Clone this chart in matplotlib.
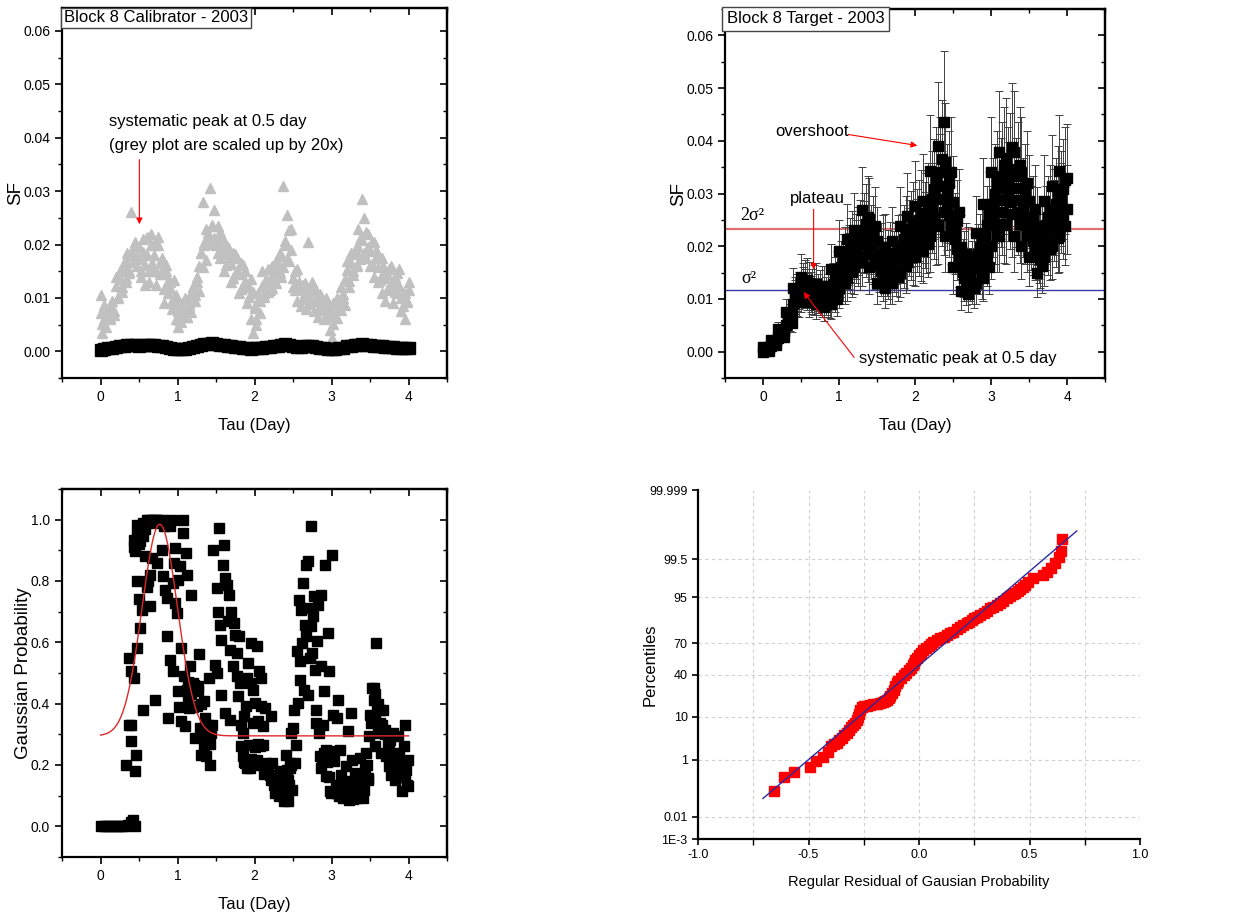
import math
import numpy as np
import matplotlib
matplotlib.use("Agg")
import matplotlib.pyplot as plt
from matplotlib.ticker import (MultipleLocator, FixedLocator, FixedFormatter,
                               FuncFormatter, NullFormatter, NullLocator)

# ---------------- data ----------------
# lag grid (day) shared by calibrator (grey) and target SF
tau_lag = [0.000, 0.025, 0.050, 0.075, 0.100, 0.125, 0.150, 0.175,
           0.200, 0.225, 0.250, 0.275, 0.300, 0.325, 0.350, 0.375,
           0.400, 0.425, 0.450, 0.475, 0.500, 0.525, 0.550, 0.575,
           0.600, 0.625, 0.650, 0.675, 0.700, 0.725, 0.750, 0.775,
           0.800, 0.825, 0.850, 0.875, 0.900, 0.925, 0.950, 0.975,
           1.000, 1.025, 1.050, 1.075, 1.100, 1.125, 1.150, 1.175,
           1.200, 1.225, 1.250, 1.275, 1.300, 1.325, 1.350, 1.375,
           1.400, 1.425, 1.450, 1.475, 1.500, 1.525, 1.550, 1.575,
           1.600, 1.625, 1.650, 1.675, 1.700, 1.725, 1.750, 1.775,
           1.800, 1.825, 1.850, 1.875, 1.900, 1.925, 1.950, 1.975,
           2.000, 2.025, 2.050, 2.075, 2.100, 2.125, 2.150, 2.175,
           2.200, 2.225, 2.250, 2.275, 2.300, 2.325, 2.350, 2.375,
           2.400, 2.425, 2.450, 2.475, 2.500, 2.525, 2.550, 2.575,
           2.600, 2.625, 2.650, 2.675, 2.700, 2.725, 2.750, 2.775,
           2.800, 2.825, 2.850, 2.875, 2.900, 2.925, 2.950, 2.975,
           3.000, 3.025, 3.050, 3.075, 3.100, 3.125, 3.150, 3.175,
           3.200, 3.225, 3.250, 3.275, 3.300, 3.325, 3.350, 3.375,
           3.400, 3.425, 3.450, 3.475, 3.500, 3.525, 3.550, 3.575,
           3.600, 3.625, 3.650, 3.675, 3.700, 3.725, 3.750, 3.775,
           3.800, 3.825, 3.850, 3.875, 3.900, 3.925, 3.950, 3.975,
           4.000]

# calibrator SF scaled up by 20x (grey triangles), two samples per lag
cal_grey = [0.0105, 0.0035, 0.0060, 0.0045, 0.0080, 0.0060, 0.0095, 0.0075,
            0.0140, 0.0100, 0.0150, 0.0120, 0.0165, 0.0130, 0.0185, 0.0150,
            0.0260, 0.0180, 0.0205, 0.0160, 0.0195, 0.0140, 0.0210, 0.0125,
            0.0215, 0.0130, 0.0220, 0.0150, 0.0200, 0.0125, 0.0215, 0.0145,
            0.0175, 0.0090, 0.0150, 0.0110, 0.0130, 0.0080, 0.0100, 0.0060,
            0.0045, 0.0090, 0.0055, 0.0075, 0.0100, 0.0065, 0.0085, 0.0110,
            0.0120, 0.0095, 0.0140, 0.0160, 0.0185, 0.0280, 0.0200, 0.0230,
            0.0210, 0.0305, 0.0235, 0.0265, 0.0200, 0.0235, 0.0175, 0.0215,
            0.0150, 0.0200, 0.0165, 0.0190, 0.0130, 0.0185, 0.0145, 0.0175,
            0.0110, 0.0165, 0.0120, 0.0150, 0.0090, 0.0120, 0.0060, 0.0035,
            0.0085, 0.0050, 0.0110, 0.0095, 0.0150, 0.0110, 0.0130, 0.0155,
            0.0115, 0.0160, 0.0135, 0.0170, 0.0150, 0.0185, 0.0140, 0.0310,
            0.0200, 0.0255, 0.0170, 0.0230, 0.0120, 0.0150, 0.0095, 0.0130,
            0.0085, 0.0125, 0.0110, 0.0080, 0.0205, 0.0100, 0.0130, 0.0075,
            0.0115, 0.0065, 0.0095, 0.0080, 0.0060, 0.0100, 0.0070, 0.0040,
            0.0025, 0.0090, 0.0065, 0.0100, 0.0080, 0.0120, 0.0100, 0.0135,
            0.0170, 0.0120, 0.0185, 0.0150, 0.0190, 0.0160, 0.0230, 0.0210,
            0.0285, 0.0250, 0.0175, 0.0220, 0.0160, 0.0205, 0.0140, 0.0190,
            0.0130, 0.0175, 0.0110, 0.0160, 0.0095, 0.0145, 0.0120, 0.0160,
            0.0090, 0.0140, 0.0110, 0.0155, 0.0075, 0.0110, 0.0060, 0.0095,
            0.0130]
cal_grey2 = [0.0072, 0.0051, 0.0086, 0.0062, 0.0074, 0.0062, 0.0082, 0.0068,
             0.0122, 0.0101, 0.0136, 0.0112, 0.0156, 0.0138, 0.0168, 0.0147,
             0.0186, 0.0168, 0.0198, 0.0177, 0.0172, 0.0151, 0.0186, 0.0162,
             0.0180, 0.0150, 0.0200, 0.0165, 0.0180, 0.0150, 0.0200, 0.0165,
             0.0144, 0.0117, 0.0162, 0.0131, 0.0118, 0.0094, 0.0134, 0.0106,
             0.0076, 0.0058, 0.0088, 0.0067, 0.0080, 0.0065, 0.0090, 0.0073,
             0.0120, 0.0105, 0.0130, 0.0113, 0.0184, 0.0157, 0.0202, 0.0171,
             0.0222, 0.0201, 0.0236, 0.0212, 0.0208, 0.0184, 0.0224, 0.0196,
             0.0182, 0.0161, 0.0196, 0.0172, 0.0164, 0.0137, 0.0182, 0.0151,
             0.0144, 0.0117, 0.0162, 0.0131, 0.0122, 0.0101, 0.0136, 0.0112,
             0.0082, 0.0061, 0.0096, 0.0072, 0.0122, 0.0101, 0.0136, 0.0112,
             0.0136, 0.0118, 0.0148, 0.0127, 0.0166, 0.0148, 0.0178, 0.0157,
             0.0206, 0.0173, 0.0228, 0.0190, 0.0138, 0.0114, 0.0154, 0.0126,
             0.0116, 0.0098, 0.0128, 0.0107, 0.0106, 0.0088, 0.0118, 0.0097,
             0.0096, 0.0078, 0.0108, 0.0087, 0.0080, 0.0065, 0.0090, 0.0073,
             0.0072, 0.0051, 0.0086, 0.0062, 0.0096, 0.0078, 0.0108, 0.0087,
             0.0152, 0.0131, 0.0166, 0.0142, 0.0182, 0.0161, 0.0196, 0.0172,
             0.0208, 0.0184, 0.0224, 0.0196, 0.0188, 0.0164, 0.0204, 0.0176,
             0.0158, 0.0134, 0.0174, 0.0146, 0.0138, 0.0114, 0.0154, 0.0126,
             0.0132, 0.0111, 0.0146, 0.0122, 0.0100, 0.0085, 0.0110, 0.0093,
             0.0114]

# calibrator SF, true scale (black squares)
tau_cal = [0.00, 0.05, 0.10, 0.15, 0.20, 0.25, 0.30, 0.35, 0.40, 0.45,
           0.50, 0.55, 0.60, 0.65, 0.70, 0.75, 0.80, 0.85, 0.90, 0.95,
           1.00, 1.05, 1.10, 1.15, 1.20, 1.25, 1.30, 1.35, 1.40, 1.45,
           1.50, 1.55, 1.60, 1.65, 1.70, 1.75, 1.80, 1.85, 1.90, 1.95,
           2.00, 2.05, 2.10, 2.15, 2.20, 2.25, 2.30, 2.35, 2.40, 2.45,
           2.50, 2.55, 2.60, 2.65, 2.70, 2.75, 2.80, 2.85, 2.90, 2.95,
           3.00, 3.05, 3.10, 3.15, 3.20, 3.25, 3.30, 3.35, 3.40, 3.45,
           3.50, 3.55, 3.60, 3.65, 3.70, 3.75, 3.80, 3.85, 3.90, 3.95,
           4.00]
cal_black = [0.0003, 0.0005, 0.0006, 0.0007, 0.0008, 0.0009, 0.0010, 0.0011, 0.0012, 0.0011,
             0.0010, 0.0011, 0.0011, 0.0011, 0.0011, 0.0010, 0.0009, 0.0008, 0.0006, 0.0005,
             0.0004, 0.0004, 0.0005, 0.0006, 0.0008, 0.0010, 0.0012, 0.0013, 0.0014, 0.0015,
             0.0013, 0.0012, 0.0011, 0.0010, 0.0009, 0.0008, 0.0008, 0.0007, 0.0006, 0.0005,
             0.0006, 0.0007, 0.0007, 0.0008, 0.0008, 0.0009, 0.0010, 0.0012, 0.0014, 0.0011,
             0.0009, 0.0008, 0.0008, 0.0009, 0.0010, 0.0009, 0.0008, 0.0007, 0.0006, 0.0005,
             0.0004, 0.0005, 0.0006, 0.0007, 0.0009, 0.0010, 0.0011, 0.0012, 0.0013, 0.0012,
             0.0011, 0.0010, 0.0009, 0.0009, 0.0008, 0.0008, 0.0008, 0.0007, 0.0007, 0.0006,
             0.0007]

# target SF: two samples per lag, each with its error
tgt_sf = [0.0000, 0.0005, 0.0003, 0.0008, 0.0010, 0.0018, 0.0014, 0.0021,
          0.0025, 0.0035, 0.0030, 0.0040, 0.0050, 0.0065, 0.0058, 0.0073,
          0.0090, 0.0108, 0.0099, 0.0116, 0.0110, 0.0128, 0.0119, 0.0136,
          0.0095, 0.0115, 0.0105, 0.0125, 0.0090, 0.0113, 0.0101, 0.0124,
          0.0085, 0.0108, 0.0096, 0.0119, 0.0090, 0.0128, 0.0109, 0.0146,
          0.0120, 0.0160, 0.0140, 0.0180, 0.0140, 0.0183, 0.0161, 0.0204,
          0.0160, 0.0200, 0.0180, 0.0220, 0.0180, 0.0230, 0.0205, 0.0255,
          0.0160, 0.0213, 0.0186, 0.0239, 0.0130, 0.0175, 0.0153, 0.0198,
          0.0120, 0.0165, 0.0143, 0.0188, 0.0130, 0.0175, 0.0153, 0.0198,
          0.0150, 0.0200, 0.0175, 0.0225, 0.0170, 0.0220, 0.0195, 0.0245,
          0.0180, 0.0235, 0.0208, 0.0263, 0.0190, 0.0245, 0.0218, 0.0273,
          0.0220, 0.0290, 0.0255, 0.0325, 0.0240, 0.0340, 0.0290, 0.0435,
          0.0220, 0.0300, 0.0260, 0.0340, 0.0160, 0.0230, 0.0195, 0.0265,
          0.0115, 0.0163, 0.0139, 0.0186, 0.0110, 0.0150, 0.0130, 0.0170,
          0.0130, 0.0185, 0.0158, 0.0213, 0.0140, 0.0220, 0.0180, 0.0260,
          0.0200, 0.0280, 0.0240, 0.0320, 0.0220, 0.0310, 0.0265, 0.0355,
          0.0240, 0.0325, 0.0283, 0.0389, 0.0220, 0.0310, 0.0265, 0.0355,
          0.0200, 0.0280, 0.0240, 0.0320, 0.0180, 0.0240, 0.0210, 0.0270,
          0.0150, 0.0200, 0.0175, 0.0225, 0.0180, 0.0240, 0.0210, 0.0270,
          0.0200, 0.0265, 0.0233, 0.0298, 0.0220, 0.0290, 0.0255, 0.0325,
          0.0270]
tgt_err = [0.0000, 0.0002, 0.0001, 0.0002, 0.0003, 0.0005, 0.0004, 0.0006,
           0.0008, 0.0011, 0.0009, 0.0012, 0.0015, 0.0020, 0.0018, 0.0023,
           0.0028, 0.0033, 0.0031, 0.0036, 0.0034, 0.0040, 0.0037, 0.0042,
           0.0029, 0.0036, 0.0033, 0.0039, 0.0028, 0.0035, 0.0031, 0.0038,
           0.0026, 0.0033, 0.0030, 0.0037, 0.0028, 0.0040, 0.0034, 0.0045,
           0.0037, 0.0050, 0.0043, 0.0056, 0.0043, 0.0057, 0.0050, 0.0063,
           0.0050, 0.0062, 0.0056, 0.0068, 0.0056, 0.0071, 0.0064, 0.0079,
           0.0050, 0.0066, 0.0058, 0.0074, 0.0040, 0.0054, 0.0047, 0.0061,
           0.0037, 0.0051, 0.0044, 0.0058, 0.0040, 0.0054, 0.0047, 0.0061,
           0.0047, 0.0062, 0.0054, 0.0070, 0.0053, 0.0068, 0.0060, 0.0076,
           0.0056, 0.0073, 0.0064, 0.0082, 0.0059, 0.0076, 0.0068, 0.0085,
           0.0068, 0.0090, 0.0079, 0.0101, 0.0074, 0.0105, 0.0090, 0.0135,
           0.0068, 0.0093, 0.0081, 0.0105, 0.0050, 0.0071, 0.0060, 0.0082,
           0.0036, 0.0051, 0.0043, 0.0058, 0.0034, 0.0047, 0.0040, 0.0053,
           0.0040, 0.0057, 0.0049, 0.0066, 0.0043, 0.0068, 0.0056, 0.0081,
           0.0062, 0.0087, 0.0074, 0.0099, 0.0068, 0.0096, 0.0082, 0.0110,
           0.0074, 0.0101, 0.0088, 0.0121, 0.0068, 0.0096, 0.0082, 0.0110,
           0.0062, 0.0087, 0.0074, 0.0099, 0.0056, 0.0074, 0.0065, 0.0084,
           0.0047, 0.0062, 0.0054, 0.0070, 0.0056, 0.0074, 0.0065, 0.0084,
           0.0062, 0.0082, 0.0072, 0.0092, 0.0068, 0.0090, 0.0079, 0.0101,
           0.0084]
tgt_sf2 = [0.0009, 0.0004, 0.0006, 0.0001, 0.0023, 0.0016, 0.0019, 0.0012,
           0.0043, 0.0033, 0.0038, 0.0028, 0.0076, 0.0061, 0.0069, 0.0054,
           0.0121, 0.0103, 0.0112, 0.0094, 0.0141, 0.0123, 0.0132, 0.0114,
           0.0130, 0.0110, 0.0120, 0.0100, 0.0129, 0.0107, 0.0118, 0.0096,
           0.0124, 0.0102, 0.0113, 0.0091, 0.0156, 0.0118, 0.0137, 0.0099,
           0.0190, 0.0150, 0.0170, 0.0130, 0.0214, 0.0172, 0.0193, 0.0151,
           0.0230, 0.0190, 0.0210, 0.0170, 0.0268, 0.0218, 0.0243, 0.0193,
           0.0252, 0.0199, 0.0226, 0.0173, 0.0209, 0.0164, 0.0186, 0.0141,
           0.0199, 0.0154, 0.0176, 0.0131, 0.0209, 0.0164, 0.0186, 0.0141,
           0.0238, 0.0188, 0.0213, 0.0163, 0.0258, 0.0208, 0.0233, 0.0183,
           0.0276, 0.0221, 0.0249, 0.0194, 0.0286, 0.0231, 0.0259, 0.0204,
           0.0343, 0.0273, 0.0308, 0.0238, 0.0390, 0.0315, 0.0365, 0.0265,
           0.0360, 0.0280, 0.0320, 0.0240, 0.0283, 0.0213, 0.0248, 0.0178,
           0.0198, 0.0151, 0.0174, 0.0127, 0.0180, 0.0140, 0.0160, 0.0120,
           0.0226, 0.0171, 0.0199, 0.0144, 0.0280, 0.0200, 0.0240, 0.0160,
           0.0340, 0.0260, 0.0300, 0.0220, 0.0378, 0.0288, 0.0333, 0.0243,
           0.0368, 0.0304, 0.0346, 0.0261, 0.0378, 0.0288, 0.0333, 0.0243,
           0.0340, 0.0260, 0.0300, 0.0220, 0.0285, 0.0225, 0.0255, 0.0195,
           0.0238, 0.0188, 0.0213, 0.0163, 0.0285, 0.0225, 0.0255, 0.0195,
           0.0314, 0.0249, 0.0281, 0.0216, 0.0343, 0.0273, 0.0308, 0.0238,
           0.0330]
tgt_err2 = [0.0003, 0.0001, 0.0002, 0.0000, 0.0007, 0.0005, 0.0006, 0.0004,
            0.0013, 0.0010, 0.0012, 0.0009, 0.0024, 0.0019, 0.0021, 0.0017,
            0.0038, 0.0032, 0.0035, 0.0029, 0.0044, 0.0038, 0.0041, 0.0035,
            0.0040, 0.0034, 0.0037, 0.0031, 0.0040, 0.0033, 0.0037, 0.0030,
            0.0038, 0.0032, 0.0035, 0.0028, 0.0048, 0.0037, 0.0042, 0.0031,
            0.0059, 0.0047, 0.0053, 0.0040, 0.0066, 0.0053, 0.0060, 0.0047,
            0.0071, 0.0059, 0.0065, 0.0053, 0.0083, 0.0068, 0.0075, 0.0060,
            0.0078, 0.0062, 0.0070, 0.0054, 0.0065, 0.0051, 0.0058, 0.0044,
            0.0062, 0.0048, 0.0055, 0.0041, 0.0065, 0.0051, 0.0058, 0.0044,
            0.0074, 0.0058, 0.0066, 0.0051, 0.0080, 0.0064, 0.0072, 0.0057,
            0.0086, 0.0069, 0.0077, 0.0060, 0.0089, 0.0072, 0.0080, 0.0063,
            0.0106, 0.0085, 0.0095, 0.0074, 0.0121, 0.0098, 0.0113, 0.0082,
            0.0112, 0.0087, 0.0099, 0.0074, 0.0088, 0.0066, 0.0077, 0.0055,
            0.0061, 0.0047, 0.0054, 0.0039, 0.0056, 0.0043, 0.0050, 0.0037,
            0.0070, 0.0053, 0.0062, 0.0045, 0.0087, 0.0062, 0.0074, 0.0050,
            0.0105, 0.0081, 0.0093, 0.0068, 0.0117, 0.0089, 0.0103, 0.0075,
            0.0114, 0.0094, 0.0107, 0.0081, 0.0117, 0.0089, 0.0103, 0.0075,
            0.0105, 0.0081, 0.0093, 0.0068, 0.0088, 0.0070, 0.0079, 0.0060,
            0.0074, 0.0058, 0.0066, 0.0051, 0.0088, 0.0070, 0.0079, 0.0060,
            0.0097, 0.0077, 0.0087, 0.0067, 0.0106, 0.0085, 0.0095, 0.0074,
            0.0102]
sigma2 = 0.0116
two_sigma2 = 0.0233

# Gaussian probability vs tau: (tau, probability)
gauss_zero = [(0.00, 0.0), (0.04, 0.0), (0.08, 0.0), (0.12, 0.0), (0.16, 0.0),
              (0.20, 0.0), (0.24, 0.0), (0.28, 0.0), (0.32, 0.0), (0.36, 0.005),
              (0.40, 0.015), (0.42, 0.02), (0.45, 0.0)]
gauss_peak = [(0.33, 0.20), (0.376, 0.549), (0.393, 0.505), (0.376, 0.33), (0.39, 0.33),
              (0.40, 0.277), (0.44, 0.484), (0.458, 0.234), (0.45, 0.18), (0.47, 0.58),
              (0.47, 0.80), (0.50, 0.74), (0.51, 0.647), (0.54, 0.707), (0.557, 0.38),
              (0.43, 0.935), (0.45, 0.897), (0.47, 0.984), (0.51, 0.93), (0.557, 0.946),
              (0.60, 1.0), (0.62, 0.80), (0.64, 0.717), (0.64, 0.82), (0.69, 1.0),
              (0.665, 0.875), (0.71, 0.413), (0.73, 0.859), (0.75, 1.0), (0.81, 1.0),
              (0.795, 0.902), (0.815, 0.815), (0.84, 0.772), (0.86, 0.745), (0.87, 0.62),
              (0.88, 0.353), (0.90, 0.543), (0.925, 1.0), (0.946, 0.793), (0.96, 0.858),
              (0.967, 0.728), (0.967, 0.907), (0.99, 0.696), (0.946, 0.505), (1.01, 0.804),
              (1.00, 0.44), (1.02, 0.39), (1.03, 0.848), (1.05, 0.342), (1.067, 1.0),
              (1.076, 0.957), (1.05, 0.58), (1.10, 0.326), (1.105, 0.891), (1.12, 0.82),
              (1.09, 0.489), (1.12, 0.446), (1.14, 0.413), (1.153, 0.386), (1.16, 0.522),
              (1.18, 0.755), (1.197, 0.467), (1.23, 0.288), (1.25, 0.391), (1.28, 0.562),
              (1.27, 0.457), (1.29, 0.32), (1.31, 0.234), (1.34, 0.408), (1.356, 0.353),
              (1.37, 0.228), (1.38, 0.277), (1.41, 0.484), (1.42, 0.201), (1.43, 0.304),
              (1.45, 0.332), (0.48, 0.95), (0.52, 0.98), (0.55, 0.99), (0.58, 0.97),
              (0.62, 1.0), (0.65, 0.99), (0.67, 1.0), (0.72, 1.0), (0.78, 0.99),
              (0.83, 0.98), (0.87, 0.99), (0.90, 0.98), (0.44, 0.91), (0.46, 0.93),
              (0.50, 0.92), (0.53, 0.96), (0.58, 0.88), (0.60, 0.78), (1.13, 0.47),
              (1.17, 0.43), (1.20, 0.39), (1.22, 0.46), (1.26, 0.44), (1.30, 0.40),
              (1.33, 0.29), (1.35, 0.26), (1.39, 0.33), (1.42, 0.27)]
gauss_mid = [(1.465, 0.902), (1.486, 0.527), (1.51, 0.777), (1.516, 0.50), (1.53, 0.70),
             (1.54, 0.973), (1.55, 0.658), (1.564, 0.429), (1.57, 0.609), (1.585, 0.853),
             (1.60, 0.918), (1.615, 0.81), (1.615, 0.37), (1.637, 0.788), (1.65, 0.668),
             (1.667, 0.755), (1.68, 0.348), (1.68, 0.576), (1.70, 0.70), (1.72, 0.522),
             (1.73, 0.663), (1.745, 0.625), (1.767, 0.565), (1.775, 0.489), (1.79, 0.424),
             (1.80, 0.62), (1.81, 0.467), (1.82, 0.332), (1.83, 0.261), (1.845, 0.228),
             (1.853, 0.304), (1.866, 0.359), (1.875, 0.207), (1.89, 0.391), (1.905, 0.484),
             (1.92, 0.533), (1.93, 0.266), (1.94, 0.19), (1.953, 0.467), (1.96, 0.598),
             (1.975, 0.337), (1.98, 0.446), (2.00, 0.402), (2.017, 0.266), (2.026, 0.587),
             (2.035, 0.217), (2.05, 0.342), (2.06, 0.505), (2.07, 0.261), (2.078, 0.484),
             (2.09, 0.391), (2.104, 0.326), (2.11, 0.266), (2.134, 0.386), (2.155, 0.207),
             (2.18, 0.18), (2.20, 0.168), (2.22, 0.359), (2.233, 0.207), (2.25, 0.136),
             (2.264, 0.168), (2.285, 0.125), (2.31, 0.147), (2.33, 0.18), (2.34, 0.109),
             (2.36, 0.13), (2.385, 0.082), (2.39, 0.158), (2.406, 0.234), (2.415, 0.103),
             (2.423, 0.185), (2.436, 0.082), (2.45, 0.136), (2.458, 0.207), (2.47, 0.304),
             (2.488, 0.12), (2.50, 0.32), (2.51, 0.38), (2.52, 0.207), (2.536, 0.266),
             (1.86, 0.21), (1.90, 0.19), (1.95, 0.22), (2.00, 0.26), (2.04, 0.27),
             (2.08, 0.20), (2.12, 0.17), (2.22, 0.15), (2.26, 0.11), (2.28, 0.16),
             (2.30, 0.12), (2.32, 0.10), (2.35, 0.17), (2.37, 0.14), (2.40, 0.12),
             (2.43, 0.15), (2.46, 0.19), (2.48, 0.20)]
gauss_late = [(2.557, 0.571), (2.566, 0.402), (2.575, 0.739), (2.587, 0.478), (2.596, 0.538),
              (2.61, 0.707), (2.62, 0.598), (2.63, 0.793), (2.64, 0.446), (2.65, 0.658),
              (2.665, 0.853), (2.674, 0.62), (2.68, 0.712), (2.695, 0.429), (2.70, 0.864),
              (2.717, 0.549), (2.73, 0.978), (2.74, 0.652), (2.747, 0.565), (2.76, 0.685),
              (2.77, 0.75), (2.78, 0.511), (2.795, 0.38), (2.80, 0.337), (2.816, 0.603),
              (2.825, 0.723), (2.84, 0.304), (2.85, 0.228), (2.86, 0.755), (2.87, 0.522),
              (2.88, 0.217), (2.89, 0.332), (2.90, 0.44), (2.91, 0.853), (2.925, 0.163),
              (2.933, 0.25), (2.955, 0.63), (2.967, 0.505), (2.976, 0.114), (3.00, 0.245),
              (3.01, 0.886), (3.02, 0.364), (3.03, 0.212), (3.054, 0.136), (3.07, 0.353),
              (3.084, 0.413), (3.097, 0.098), (3.115, 0.25), (3.127, 0.168), (3.15, 0.092),
              (3.17, 0.12), (3.19, 0.196), (3.21, 0.31), (3.227, 0.087), (3.235, 0.147),
              (3.257, 0.37), (3.27, 0.217), (3.287, 0.114), (3.30, 0.174), (3.32, 0.092),
              (3.343, 0.141), (3.365, 0.223), (3.387, 0.125), (3.408, 0.092), (3.43, 0.19),
              (3.45, 0.239), (3.473, 0.158), (3.486, 0.293), (3.503, 0.364), (3.516, 0.337),
              (3.53, 0.451), (3.546, 0.413), (3.56, 0.359), (3.57, 0.261), (3.58, 0.598),
              (3.594, 0.391), (3.61, 0.304), (3.624, 0.337), (3.646, 0.239), (3.667, 0.38),
              (3.69, 0.315), (3.71, 0.228), (3.73, 0.272), (3.745, 0.196), (3.762, 0.283),
              (3.775, 0.168), (3.797, 0.304), (3.82, 0.228), (3.83, 0.152), (3.85, 0.207),
              (3.86, 0.293), (3.88, 0.239), (3.896, 0.18), (3.918, 0.114), (3.926, 0.207),
              (3.94, 0.261), (3.957, 0.332), (3.97, 0.185), (3.983, 0.136), (3.996, 0.217),
              (3.06, 0.11), (3.10, 0.13), (3.13, 0.10), (3.16, 0.14), (3.20, 0.11),
              (3.24, 0.12), (3.28, 0.09), (3.31, 0.13), (3.35, 0.10), (3.38, 0.16),
              (3.42, 0.12), (3.46, 0.20), (3.48, 0.15), (3.55, 0.45), (3.57, 0.43),
              (3.60, 0.40), (3.63, 0.38), (3.66, 0.33), (3.70, 0.30), (3.75, 0.26),
              (3.80, 0.22), (3.84, 0.19), (3.88, 0.16), (3.92, 0.20), (3.96, 0.16),
              (3.99, 0.13), (2.87, 0.19), (2.90, 0.24), (2.94, 0.21), (2.97, 0.16),
              (2.99, 0.11)]
# Gaussian fit parameters: baseline, amplitude, centre, width
fit_y0, fit_amp, fit_xc, fit_w = 0.295, 0.69, 0.77, 0.23

# normal probability plot of residuals
qq_resid = [-0.655, -0.611, -0.566, -0.495, -0.465, -0.436, -0.414, -0.397, -0.384, -0.371,
            -0.360, -0.349, -0.338, -0.326, -0.316, -0.307, -0.298, -0.289, -0.281, -0.274,
            -0.270, -0.266, -0.259, -0.248, -0.236, -0.221, -0.206, -0.191, -0.176, -0.165,
            -0.153, -0.146, -0.138, -0.130, -0.123, -0.115, -0.108, -0.100, -0.093, -0.082,
            -0.070, -0.058, -0.047, -0.037, -0.028, -0.022, -0.016, -0.008, -0.001, 0.010,
            0.020, 0.031, 0.043, 0.054, 0.065, 0.080, 0.096, 0.111, 0.126, 0.141,
            0.156, 0.171, 0.186, 0.201, 0.216, 0.228, 0.239, 0.250, 0.261, 0.276,
            0.292, 0.307, 0.322, 0.337, 0.352, 0.367, 0.382, 0.397, 0.412, 0.424,
            0.435, 0.446, 0.457, 0.469, 0.480, 0.495, 0.518, 0.563, 0.578, 0.598,
            0.616, 0.634, 0.641, 0.646]
qq_pct = [0.101, 0.289, 0.437, 0.623, 0.911, 1.21, 1.65, 2.31, 2.55, 2.79,
          3.2, 3.67, 4.2, 4.77, 5.45, 6.20, 6.9, 7.72, 8.7, 9.80,
          11.5, 13.3, 15.1, 15.3, 15.5, 16.0, 16.5, 17.0, 17.5, 18.1,
          18.8, 19.5, 20.4, 22.0, 24.0, 26.8, 29.9, 32.2, 34.6, 37.2,
          39.8, 42.2, 44.6, 47.0, 49.4, 51.8, 54.3, 56.7, 59.1, 61.5,
          63.8, 65.8, 67.7, 69.4, 71.1, 72.5, 73.8, 75.1, 76.4, 77.6,
          78.8, 80.5, 82.2, 83.3, 84.3, 85.2, 86.1, 87.0, 87.9, 88.8,
          89.7, 90.6, 91.5, 92.1, 92.7, 93.4, 94.0, 94.7, 95.3, 95.7,
          96.0, 96.4, 96.7, 97.1, 97.4, 97.85, 98.24, 98.56, 98.83, 99.10,
          99.36, 99.56, 99.72, 99.89]
qq_mu, qq_sd = 0.0052, 0.2172
qq_line_x = [-0.706, 0.714]
pct_ticks = [0.001, 0.01, 1, 10, 40, 70, 95, 99.5, 99.999]
pct_labels = ['1E-3', '0.01', '1', '10', '40', '70', '95', '99.5', '99.999']

# ---------------- helpers ----------------
_erf = np.vectorize(math.erf, otypes=[float])


def pct_to_z(p):
    p = np.clip(np.asarray(p, dtype=float) / 100.0, 1e-12, 1 - 1e-12)
    a = [-3.969683028665376e+01, 2.209460984245205e+02, -2.759285104469687e+02,
         1.383577518672690e+02, -3.066479806614716e+01, 2.506628277459239e+00]
    b = [-5.447609879822406e+01, 1.615858368580409e+02, -1.556989798598866e+02,
         6.680131188771972e+01, -1.328068155288572e+01]
    c = [-7.784894002430293e-03, -3.223964580411365e-01, -2.400758277161838e+00,
         -2.549732539343734e+00, 4.374664141464968e+00, 2.938163982698783e+00]
    d = [7.784695709041462e-03, 3.224671290700398e-01, 2.445134137142996e+00,
         3.754408661907416e+00]
    plow = 0.02425
    q = p - 0.5
    r = q * q
    central = ((((((a[0]*r + a[1])*r + a[2])*r + a[3])*r + a[4])*r + a[5]) * q /
               (((((b[0]*r + b[1])*r + b[2])*r + b[3])*r + b[4])*r + 1))
    ql = np.sqrt(-2 * np.log(p))
    low = ((((((c[0]*ql + c[1])*ql + c[2])*ql + c[3])*ql + c[4])*ql + c[5]) /
           ((((d[0]*ql + d[1])*ql + d[2])*ql + d[3])*ql + 1))
    qu = np.sqrt(-2 * np.log(1 - p))
    high = -((((((c[0]*qu + c[1])*qu + c[2])*qu + c[3])*qu + c[4])*qu + c[5]) /
             ((((d[0]*qu + d[1])*qu + d[2])*qu + d[3])*qu + 1))
    return np.where(p < plow, low, np.where(p > 1 - plow, high, central))


def z_to_pct(z):
    z = np.asarray(z, dtype=float)
    return 100.0 * 0.5 * (1.0 + _erf(z / math.sqrt(2.0)))


SANS = ['Liberation Sans', 'DejaVu Sans']
SERIF = ['Liberation Serif', 'DejaVu Serif']

plt.rcParams.update({
    'font.family': SANS,
    'axes.linewidth': 1.6,
    'xtick.major.width': 1.2, 'ytick.major.width': 1.2,
    'xtick.minor.width': 1.0, 'ytick.minor.width': 1.0,
    'xtick.major.size': 5, 'ytick.major.size': 5,
    'xtick.minor.size': 3, 'ytick.minor.size': 3,
    'xtick.labelsize': 10, 'ytick.labelsize': 10,
})

W, H = 1258, 916
fig = plt.figure(figsize=(W / 100, H / 100), dpi=100)


def rect(l, t, r, b):
    return [l / W, 1 - b / H, (r - l) / W, (b - t) / H]


def frame(ax, ymaj, ymin, yfmt):
    ax.set_xlim(-0.5, 4.5)
    ax.xaxis.set_major_locator(MultipleLocator(1))
    ax.xaxis.set_minor_locator(MultipleLocator(0.5))
    ax.yaxis.set_major_locator(MultipleLocator(ymaj))
    ax.yaxis.set_minor_locator(MultipleLocator(ymin))
    ax.xaxis.set_major_formatter(FuncFormatter(lambda v, p: f'{v + 0:.0f}'))
    ax.yaxis.set_major_formatter(FuncFormatter(lambda v, p: yfmt.format(v + 0)))
    ax.tick_params(which='both', direction='out', top=False, right=False)
    sx = ax.secondary_xaxis('top')
    sx.xaxis.set_major_locator(MultipleLocator(1))
    sx.xaxis.set_minor_locator(MultipleLocator(0.5))
    sx.xaxis.set_major_formatter(NullFormatter())
    sx.tick_params(which='both', direction='in', labeltop=False)
    sy = ax.secondary_yaxis('right')
    sy.yaxis.set_major_locator(MultipleLocator(ymaj))
    sy.yaxis.set_minor_locator(MultipleLocator(ymin))
    sy.yaxis.set_major_formatter(NullFormatter())
    sy.tick_params(which='both', direction='in', labelright=False)
    ax.set_xlabel('Tau (Day)', fontsize=12, labelpad=10)


def title_box(ax, txt, pad):
    ax.text(0.005, 0.994, txt, transform=ax.transAxes, ha='left', va='top',
            fontsize=12, zorder=10,
            bbox=dict(boxstyle=f'square,pad={pad}', fc='white', ec='#444444', lw=1.0))


ARROW = dict(arrowstyle='-|>', color='red', lw=0.8, shrinkA=0, shrinkB=0,
             mutation_scale=9)

# ---------------- panel 1: calibrator ----------------
ax1 = fig.add_axes(rect(62, 8, 447, 378))
ax1.plot(tau_lag, cal_grey, linestyle='none', marker='^', ms=6.5,
         color='#c0c0c0', mec='#c0c0c0')
ax1.plot(tau_lag, cal_grey2, linestyle='none', marker='^', ms=6.5,
         color='#c0c0c0', mec='#c0c0c0')
ax1.plot(tau_cal, cal_black, linestyle='none', marker='s', ms=8,
         color='black', mec='black')
ax1.set_ylim(-0.005, 0.0643)
frame(ax1, 0.01, 0.005, '{:.2f}')
ax1.set_ylabel('SF', fontsize=13.5, labelpad=-1)
title_box(ax1, 'Block 8 Calibrator - 2003', 0.15)
ax1.text(0.113, 0.0431, 'systematic peak at 0.5 day', ha='left', va='center', fontsize=12)
ax1.text(0.113, 0.0386, '(grey plot are scaled up by 20x)', ha='left', va='center',
         fontsize=12)
ax1.annotate('', xy=(0.505, 0.0238), xytext=(0.505, 0.0359), arrowprops=ARROW)

# ---------------- panel 2: target ----------------
ax2 = fig.add_axes(rect(725, 9, 1105, 378))
ax2.axhline(two_sigma2, color='#e07070', lw=1.6, zorder=1)
ax2.axhline(sigma2, color='#3838a8', lw=1.0, zorder=1)
EB = dict(fmt='none', ecolor='#404040', elinewidth=0.7, capsize=2.6, capthick=0.7,
          zorder=2)
ax2.errorbar(tau_lag, tgt_sf, yerr=tgt_err, **EB)
ax2.errorbar(tau_lag, tgt_sf2, yerr=tgt_err2, **EB)
ax2.plot(tau_lag, tgt_sf, linestyle='none', marker='s', ms=6.5, color='black',
         mec='black', zorder=3)
ax2.plot(tau_lag, tgt_sf2, linestyle='none', marker='s', ms=6.5, color='black',
         mec='black', zorder=3)
ax2.set_ylim(-0.005, 0.065)
frame(ax2, 0.01, 0.005, '{:.2f}')
ax2.set_ylabel('SF', fontsize=13.5, labelpad=-1)
title_box(ax2, 'Block 8 Target - 2003', 0.28)
ax2.text(-0.30, 0.0259, '2σ²', family=SERIF, fontsize=13, ha='left', va='center')
ax2.text(-0.29, 0.0139, 'σ²', family=SERIF, fontsize=13, ha='left', va='center')
ax2.text(0.16, 0.0417, 'overshoot', ha='left', va='center', fontsize=12, zorder=6)
ax2.annotate('', xy=(2.03, 0.0391), xytext=(1.12, 0.0412), arrowprops=ARROW)
ax2.text(0.35, 0.0291, 'plateau', ha='left', va='center', fontsize=12, zorder=6)
ax2.annotate('', xy=(0.666, 0.01555), xytext=(0.666, 0.0270), arrowprops=ARROW)
ax2.text(1.26, -0.0013, 'systematic peak at 0.5 day', ha='left', va='center',
         fontsize=12)
ax2.annotate('', xy=(0.534, 0.0113), xytext=(1.2, -0.0011), arrowprops=ARROW)

# ---------------- panel 3: Gaussian probability ----------------
ax3 = fig.add_axes(rect(62, 489, 447, 857))
pts = gauss_zero + gauss_peak + gauss_mid + gauss_late
tau3 = [p[0] for p in pts]
prob3 = [p[1] for p in pts]
ax3.plot(tau3, prob3, linestyle='none', marker='s', ms=6.6, color='black', mec='black')
tfit = np.linspace(0, 4, 500)
ax3.plot(tfit, fit_y0 + fit_amp * np.exp(-(tfit - fit_xc) ** 2 / (2 * fit_w ** 2)),
         color='#e02828', lw=1.0, zorder=4)
ax3.set_ylim(-0.1, 1.1)
frame(ax3, 0.2, 0.1, '{:.1f}')
ax3.set_ylabel('Gaussian Probability', fontsize=13.5, labelpad=-1)

# ---------------- panel 4: normal probability plot ----------------
ax4 = fig.add_axes(rect(698, 490, 1140, 839))
ax4.set_yscale('function', functions=(pct_to_z, z_to_pct))
ax4.set_xlim(-1.0, 1.0)
ax4.set_ylim(0.001, 99.999)
for gx in [-0.75, -0.5, -0.25, 0.0, 0.25, 0.5, 0.75]:
    ax4.axvline(gx, color='#d0d0d0', lw=0.8, ls=(0, (3, 3)), zorder=0)
for gy in [0.01, 1, 10, 40, 70, 95, 99.5]:
    ax4.axhline(gy, color='#d0d0d0', lw=0.8, ls=(0, (3, 3)), zorder=0)
ax4.plot(qq_resid, qq_pct, linestyle='none', marker='s', ms=6.5, color='#ff0000',
         mec='#ff0000', zorder=3)
xl = np.linspace(qq_line_x[0], qq_line_x[1], 60)
ax4.plot(xl, z_to_pct((xl - qq_mu) / qq_sd), color='#2a2aa0', lw=1.0, zorder=4)
ax4.spines['top'].set_visible(False)
ax4.spines['right'].set_visible(False)
ax4.yaxis.set_major_locator(FixedLocator(pct_ticks))
ax4.yaxis.set_major_formatter(FixedFormatter(pct_labels))
ax4.yaxis.set_minor_locator(NullLocator())
ax4.xaxis.set_major_locator(MultipleLocator(0.5))
ax4.xaxis.set_minor_locator(MultipleLocator(0.25))
ax4.xaxis.set_major_formatter(FuncFormatter(lambda v, p: f'{v + 0:.1f}'))
ax4.tick_params(which='both', direction='out', labelsize=9, length=4)
ax4.set_xlabel('Regular Residual of Gausian Probability', fontsize=10.5, labelpad=10)
ax4.set_ylabel('Percentiles', fontsize=12, labelpad=-6)

fig.savefig('out.png', dpi=100)
